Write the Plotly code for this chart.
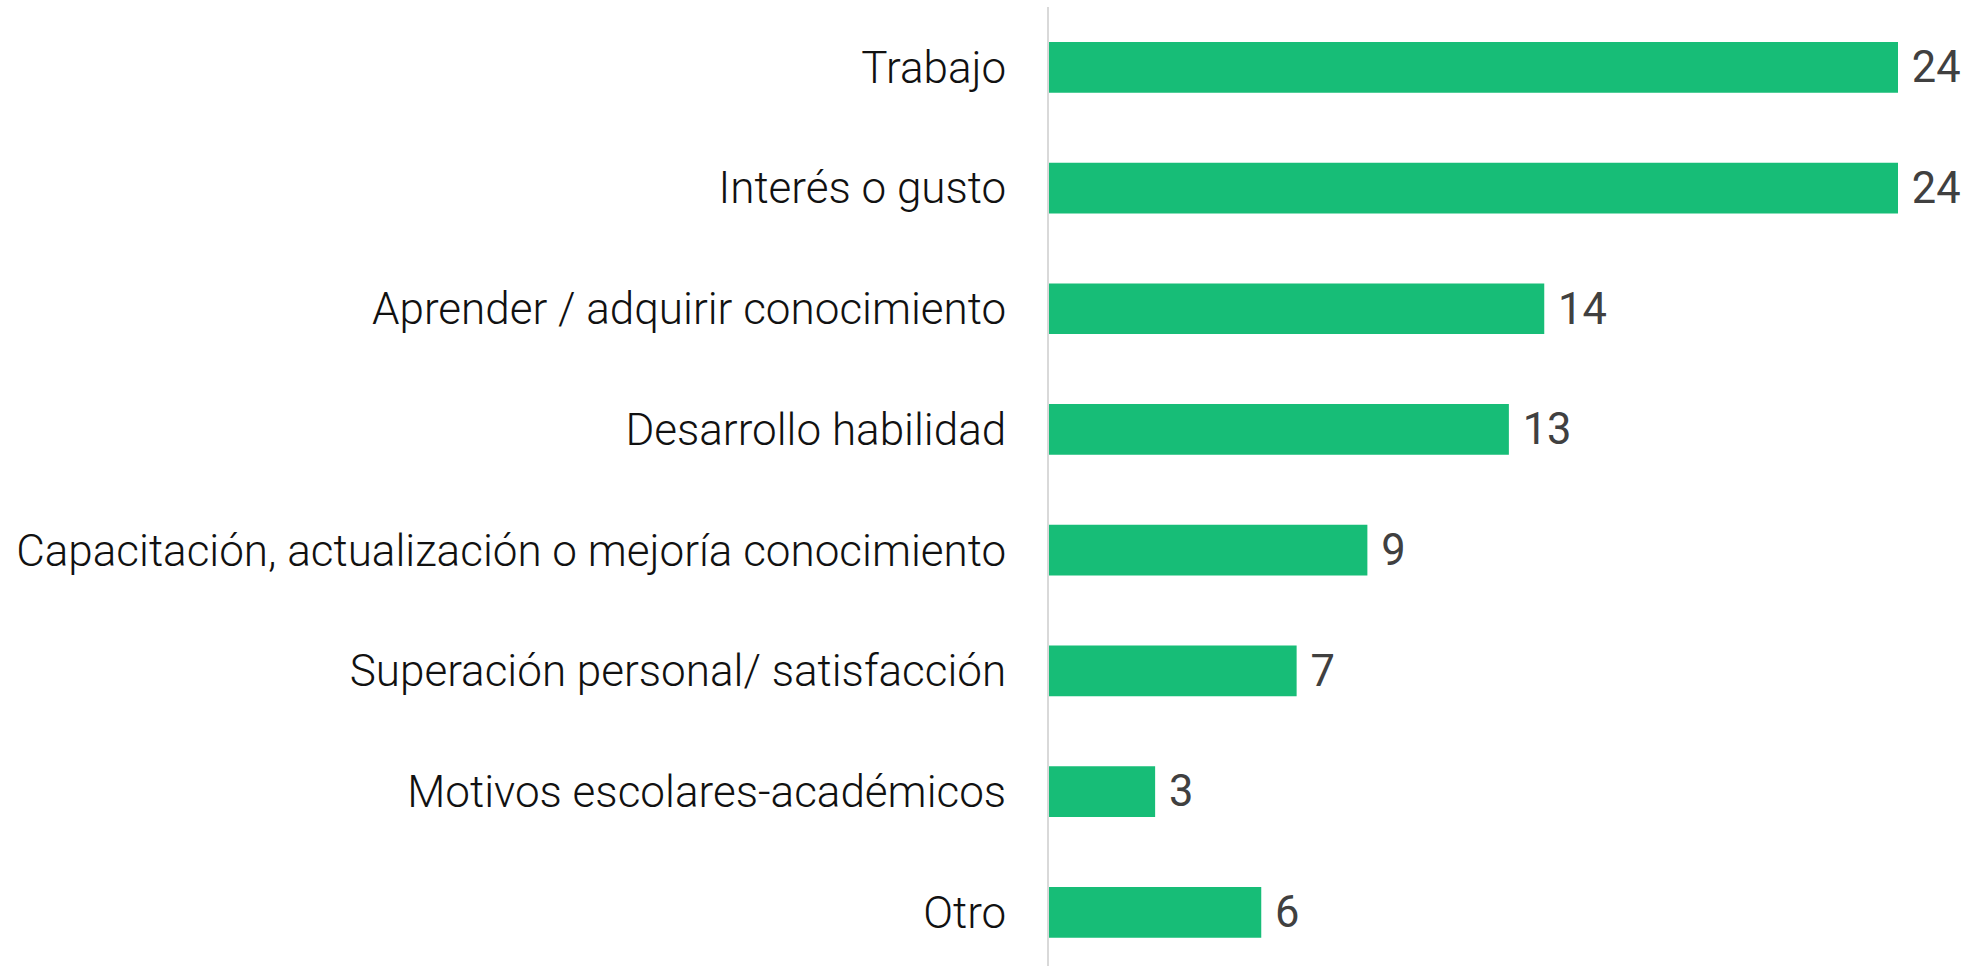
import plotly.graph_objects as go

categories = [
    "Trabajo",
    "Interés o gusto",
    "Aprender / adquirir conocimiento",
    "Desarrollo habilidad",
    "Capacitación, actualización o mejoría conocimiento",
    "Superación personal/ satisfacción",
    "Motivos escolares-académicos",
    "Otro",
]
values = [24, 24, 14, 13, 9, 7, 3, 6]

fig = go.Figure(
    go.Bar(
        x=values,
        y=categories,
        orientation="h",
        marker=dict(color="#17BD77", line=dict(width=0)),
        width=0.42,
        text=values,
        texttemplate=" %{x}",
        textposition="outside",
        cliponaxis=False,
        textfont=dict(family="Roboto", size=54, color="#404040", weight=400),
        hoverinfo="skip",
    )
)

fig.update_layout(
    width=1981,
    height=966,
    margin=dict(l=1049, r=83, t=7, b=0, autoexpand=False),
    paper_bgcolor="white",
    plot_bgcolor="white",
    showlegend=False,
    xaxis=dict(range=[0, 24], visible=False, fixedrange=True),
    yaxis=dict(
        categoryorder="array",
        categoryarray=categories[::-1],
        range=[-0.445, 7.5],
        showgrid=False,
        zeroline=False,
        showline=True,
        linecolor="#d9d9d9",
        linewidth=2,
        ticks="",
        automargin=False,
        ticklabelstandoff=32,
        tickfont=dict(family="Roboto", size=44, color="#111111", weight=300),
        fixedrange=True,
    ),
)

fig.write_html(
    "out.html",
    config={"displayModeBar": False},
    post_script="document.body.style.margin='0';document.body.style.overflow='hidden';",
)
